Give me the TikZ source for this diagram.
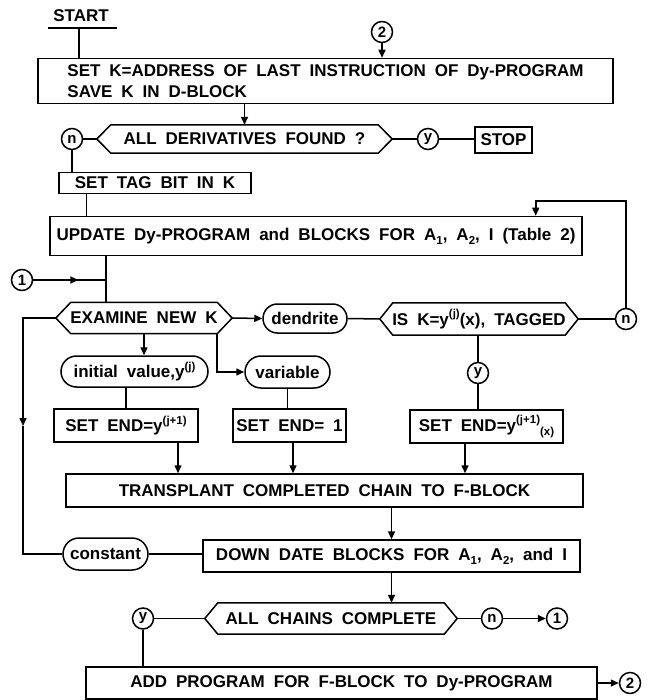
\documentclass[tikz,border=0pt]{standalone}
\usepackage{fontspec}
\setmainfont{Liberation Sans}[FakeStretch=1.0,WordSpace=1.9]
\usetikzlibrary{shapes.misc,arrows.meta,decorations.markings,calc}
\newcommand\lsup[1]{\raisebox{0.85ex}{\fontsize{11.5}{11.5}\selectfont #1}}
\newcommand\lsub[1]{\raisebox{-0.45ex}{\fontsize{11.5}{11.5}\selectfont #1}}
\newcommand\hexdraw[2]{\draw[ln] (#1.west) -- ([xshift=#2]#1.north west) -- ([xshift=-#2]#1.north east) -- (#1.east) -- ([xshift=-#2]#1.south east) -- ([xshift=#2]#1.south west) -- cycle;}
\tikzset{
 ln/.style={line width=1.5pt},
 boxn/.style={draw, line width=1.5pt, rectangle, inner sep=0pt},
 term/.style={draw, line width=1.5pt, rounded rectangle, inner sep=0pt},
 conn/.style={draw, line width=1.5pt, circle, inner sep=0pt, minimum size=21pt, font=\fontsize{15}{15}\selectfont\bfseries},
 hexn/.style={inner sep=0pt},
 arr/.style={line width=1.5pt, -{Triangle[length=8pt,width=7pt]}},
 midarr/.style={line width=1.5pt, postaction={decorate}, decoration={markings, mark=at position #1 with {\arrow{Triangle[length=8pt,width=7pt]}}}},
}
\begin{document}
\begin{tikzpicture}[x=1pt,y=-1pt,font=\fontsize{17}{21}\selectfont\bfseries]
\useasboundingbox (0,0) rectangle (653,700);
% nodes
\node (start) at (81,16) {START};
\coordinate (sbl) at (48,28);
\coordinate (sbr) at (117,28);
\coordinate (sb) at (79,28);
\node[boxn, minimum width=575pt, minimum height=45pt, align=left] (b1) at (325.5,81) {SET K=ADDRESS OF LAST INSTRUCTION OF Dy-PROGRAM\\SAVE K IN D-BLOCK};
\node[conn] (c2t) at (382,32) {2};
\node[hexn, minimum width=295pt, minimum height=28pt] (d1) at (244.5,139) {ALL DERIVATIVES FOUND ?};
\node[conn] (n1) at (72,139) {n};
\node[conn] (y1) at (428,139) {y};
\node[boxn, minimum width=57pt, minimum height=26pt] (stop) at (503.5,140) {STOP};
\node[boxn, minimum width=192pt, minimum height=21pt] (tag) at (155,183) {SET TAG BIT IN K};
\node[boxn, minimum width=532pt, minimum height=39pt] (upd) at (316,236) {UPDATE Dy-PROGRAM and BLOCKS FOR A\lsub{1}, A\lsub{2}, I (Table 2)};
\node[conn] (n2) at (626,319) {n};
\coordinate (fb) at (626,201);
\node[conn] (c1) at (22,280) {1};
\coordinate (j1) at (106,280);
\node[hexn, minimum width=176pt, minimum height=31pt] (ex) at (144,318) {EXAMINE NEW K};
\node[term, minimum width=84pt, minimum height=29pt] (den) at (305,318.5) {dendrite};
\node[hexn, minimum width=198pt, minimum height=32pt] (isk) at (479,319) {IS K=y\lsup{(j)}(x), TAGGED};
\node[conn] (yb) at (478,373) {y};
\node[term, minimum width=147pt, minimum height=31pt] (iv) at (134.5,371.5) {initial value,y\lsup{(j)}};
\node[term, minimum width=85pt, minimum height=32pt] (var) at (287.5,372) {variable};
\node[boxn, minimum width=144pt, minimum height=33pt] (se1) at (126,425.5) {SET END=y\lsup{(j+1)}};
\node[boxn, minimum width=113pt, minimum height=33pt] (se2) at (289.5,425.5) {SET END= 1};
\node[boxn, minimum width=153pt, minimum height=33pt] (se3) at (486.5,426.5) {SET END=y\lsup{(j+1)}\lsub{(x)}};
\node[boxn, minimum width=517pt, minimum height=33pt] (tr) at (324.5,490.5) {TRANSPLANT COMPLETED CHAIN TO F-BLOCK};
\node[term, minimum width=85pt, minimum height=32pt] (const) at (105.5,554) {constant};
\node[boxn, minimum width=377pt, minimum height=32pt] (dd) at (391.5,556) {DOWN DATE BLOCKS FOR A\lsub{1}, A\lsub{2}, and I};
\node[hexn, minimum width=252pt, minimum height=31pt] (ac) at (331,618.5) {ALL CHAINS COMPLETE};
\node[conn] (y3) at (143,618.5) {y};
\node[conn] (n3) at (492,618.5) {n};
\node[conn] (c1b) at (557,618.5) {1};
\node[boxn, minimum width=511pt, minimum height=32pt] (add) at (341.5,683) {ADD PROGRAM FOR F-BLOCK TO Dy-PROGRAM};
\node[conn] (c2b) at (630,683) {2};
\coordinate (lpa) at (23,318);
\coordinate (lpm) at (23,426);
\coordinate (lpb) at (23,554);
% hexagons
\hexdraw{d1}{14pt}
\hexdraw{ex}{15pt}
\hexdraw{isk}{13pt}
\hexdraw{ac}{13pt}
% connectors
\draw[ln] (sbl) -- (sbr);
\draw[ln] (sb) -- (sb |- b1.north);
\draw[arr] (c2t) -- (c2t |- b1.north);
\draw[arr] (b1.south -| d1.north) -- (d1.north);
\draw[ln] (n1) -- (d1.west);
\draw[ln] (d1.east) -- (y1);
\draw[ln] (y1) -- (stop.west |- y1);
\draw[ln] (n1) -- (n1 |- tag.north);
\draw[ln] ([xshift=28pt]tag.south west) -- ([xshift=28pt]tag.south west |- upd.north);
\draw[arr] (n2) -- (fb) -| ([xshift=-47pt]upd.north east);
\draw[midarr=0.62] (c1) -- (j1);
\draw[ln] (upd.south -| j1) -- (ex.north -| j1);
\draw[arr] (ex.west) -- (lpa) -- (lpm);
\draw[ln] (lpm) -- (lpb) -- (const.west);
\draw[arr] (ex.east) -- (den.west);
\draw[ln] (den.east) -- (isk.west);
\draw[ln] (isk.east) -- (n2);
\draw[ln] (isk.south -| yb) -- (yb);
\draw[ln] (yb) -- (yb |- se3.north);
\draw[arr] (ex.south) -- (ex.south |- iv.north);
\draw[arr] ([xshift=-15pt]ex.south east) |- (var.west);
\draw[ln] (iv.south -| se1.north) -- (se1.north);
\draw[ln] (var.south) -- (var.south |- se2.north);
\draw[arr] ([xshift=52pt]se1.south) -- ([xshift=52pt]se1.south |- tr.north);
\draw[arr] ([xshift=3.5pt]se2.south) -- ([xshift=3.5pt]se2.south |- tr.north);
\draw[arr] ([xshift=-21.5pt]se3.south) -- ([xshift=-21.5pt]se3.south |- tr.north);
\draw[arr] (tr.south -| dd.north) -- (dd.north);
\draw[ln] (const.east) -- (dd.west |- const.east);
\draw[arr] (dd.south) -- (dd.south |- ac.north);
\draw[ln] (y3) -- (ac.west);
\draw[ln] (y3) -- (y3 |- add.north);
\draw[ln] (ac.east) -- (n3);
\draw[arr] (n3) -- (c1b);
\draw[arr] (add.east) -- (c2b);
\end{tikzpicture}
\end{document}
